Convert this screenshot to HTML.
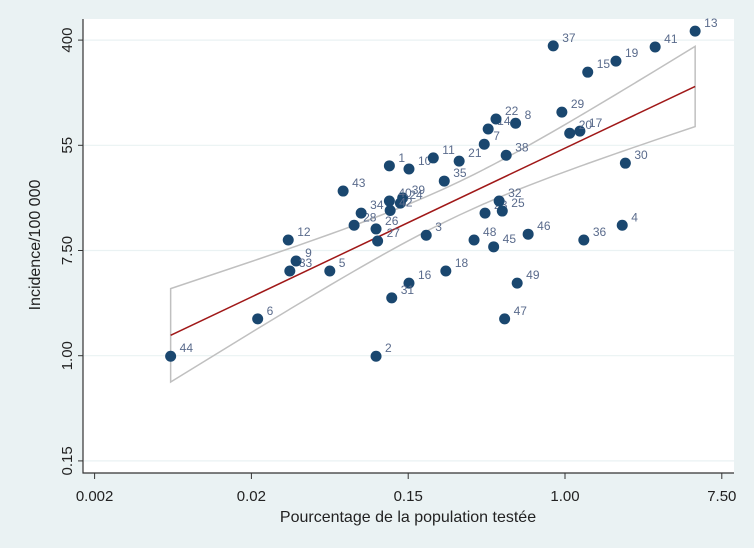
<!DOCTYPE html>
<html><head><meta charset="utf-8">
<style>
html,body{margin:0;padding:0;background:#eaf2f3;}
svg{display:block;font-family:"Liberation Sans",Arial,sans-serif;}
</style></head>
<body>
<svg id="chart" width="754" height="548" viewBox="0 0 754 548">
  <rect x="0" y="0" width="754" height="548" fill="#eaf2f3"/>
  <rect x="83" y="19" width="651" height="454" fill="#ffffff"/>
  <g id="grid"></g>
  <g id="band"></g>
  <g id="fit"></g>
  <g id="pts"></g>
  <g id="axes"></g>
  <text x="408" y="522" font-size="16" fill="#222" text-anchor="middle">Pourcentage de la population testée</text>
  <text transform="translate(40,245) rotate(-90)" font-size="16" fill="#222" text-anchor="middle">Incidence/100 000</text>
</svg>
<script>
const ids = [1,2,3,4,5,6,7,8,9,10,11,12,13,14,15,16,17,18,19,20,21,22,23,24,25,26,27,28,29,30,31,32,33,34,35,36,37,38,39,40,41,42,43,44,45,46,47,48,49];
const logPct = [-2.24,-2.41,-1.77,0.73,-3.00,-3.92,-1.03,-0.63,-3.43,-1.99,-1.68,-3.53,1.66,-0.98,0.29,-1.99,0.19,-1.52,0.65,0.06,-1.35,-0.88,-1.02,-2.10,-0.80,-2.41,-2.39,-2.69,-0.04,0.77,-2.21,-0.84,-3.51,-2.60,-1.54,0.24,-0.15,-0.75,-2.07,-2.24,1.15,-2.23,-2.83,-5.03,-0.91,-0.47,-0.77,-1.16,-0.61];
const logInc = [3.61,-0.01,2.29,2.48,1.61,0.70,4.02,4.42,1.80,3.55,3.76,2.20,6.17,4.31,5.39,1.38,4.27,1.61,5.60,4.23,3.70,4.50,2.71,2.90,2.75,2.41,2.18,2.48,4.63,3.66,1.10,2.94,1.61,2.71,3.32,2.20,5.89,3.81,3.00,2.94,5.87,2.76,3.13,-0.01,2.07,2.31,0.70,2.20,1.38];
const xTickLog = [-6,-4,-2,0,2];
const xTickLabels = ["0.002","0.02","0.15","1.00","7.50"];
const yTickLog = [-2,0,2,4,6];
const yTickLabels = ["0.15","1.00","7.50","55","400"];

const NS = "http://www.w3.org/2000/svg";
function X(l){return 565 + 78.4*l;}
function Y(l){return 355.7 - 52.6*l;}
function mk(tag, attrs, parent){const e=document.createElementNS(NS,tag);for(const k in attrs)e.setAttribute(k,attrs[k]);parent.appendChild(e);return e;}

const grid=document.getElementById('grid'), axes=document.getElementById('axes');
yTickLog.forEach((t,i)=>{
  const g=mk('line',{x1:84,x2:734,y1:Y(t),y2:Y(t),stroke:'#eaf2f3','stroke-width':1.2},grid);
  
  
  const tk=mk('line',{x1:78,x2:83,y1:Y(t),y2:Y(t),stroke:'#333'},axes);
  
  
  const tx=mk('text',{transform:`translate(72,${Y(t)}) rotate(-90)`,'font-size':15,fill:'#222','text-anchor':'middle'},axes);
  tx.textContent=yTickLabels[i];
  
  
});
xTickLog.forEach((t,i)=>{
  const tk=mk('line',{x1:X(t),x2:X(t),y1:473,y2:479,stroke:'#333'},axes);
  
  
  const tx=mk('text',{x:X(t),y:501,'font-size':15,fill:'#222','text-anchor':'middle'},axes);
  tx.textContent=xTickLabels[i];
  
  
});
const ax1=mk('line',{x1:83,x2:83,y1:19,y2:473.5,stroke:'#333','stroke-width':1.2},axes);


const ax2=mk('line',{x1:82.5,x2:734,y1:473,y2:473,stroke:'#333','stroke-width':1.2},axes);



const n=logPct.length;
const mx=logPct.reduce((a,b)=>a+b,0)/n, my=logInc.reduce((a,b)=>a+b,0)/n;
let sxx=0,sxy=0;for(let i=0;i<n;i++){sxx+=(logPct[i]-mx)**2;sxy+=(logPct[i]-mx)*(logInc[i]-my);}
const b=sxy/sxx, a=my-b*mx;
let sse=0;for(let i=0;i<n;i++){sse+=(logInc[i]-a-b*logPct[i])**2;}
const s=Math.sqrt(sse/(n-2)), tq=2.012;
const xs=[...logPct].sort((p,q)=>p-q);
const up=[],lo=[];
xs.forEach(x=>{const yh=a+b*x, se=s*Math.sqrt(1/n+(x-mx)**2/sxx);up.push([X(x),Y(yh+tq*se)]);lo.push([X(x),Y(yh-tq*se)]);});
const ring=up.concat(lo.reverse());
const bp=mk('polygon',{points:ring.map(p=>p.join(',')).join(' '),fill:'none',stroke:'#c0c0c0','stroke-width':1.5},document.getElementById('band'));


const x0=xs[0],x1=xs[xs.length-1];
const fl=mk('line',{x1:X(x0),y1:Y(a+b*x0),x2:X(x1),y2:Y(a+b*x1),stroke:'#a01818','stroke-width':1.5},document.getElementById('fit'));



const pts=document.getElementById('pts');
for(let i=0;i<n;i++){
  const c=mk('circle',{cx:X(logPct[i]),cy:Y(logInc[i]),r:5.5,fill:'#1a476f'},pts);
  
  
  const t=mk('text',{x:X(logPct[i])+9,y:Y(logInc[i])-4,'font-size':12,fill:'#5a6b8c'},pts);
  t.textContent=ids[i];
  
  
}
</script>
</body></html>
